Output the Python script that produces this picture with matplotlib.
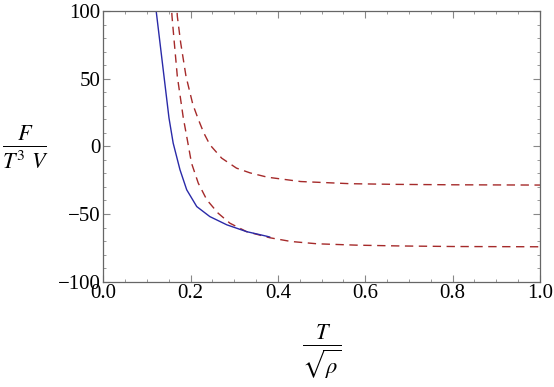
import numpy as np
import matplotlib.pyplot as plt

plt.rcParams["mathtext.fontset"] = "stix"
plt.rcParams["font.family"] = ["Liberation Serif", "DejaVu Serif"]

# blue solid curve
T_blue = [0.117, 0.1207, 0.1298, 0.139, 0.1504, 0.160, 0.1756, 0.191, 0.214, 0.244, 0.283, 0.328, 0.374, 0.381]
F_blue = [112, 101, 76.5, 51.7, 21.0, 2.4, -17.3, -32.1, -44.5, -51.9, -58.0, -63.0, -66.4, -67.0]

# red dashed, lower branch
T_red1 = [0.155, 0.1573, 0.1626, 0.1695, 0.1832, 0.191, 0.202, 0.2175, 0.237, 0.263, 0.290, 0.328,
          0.381, 0.43, 0.49, 0.58, 0.68, 0.80, 0.90, 1.0]
F_red1 = [110, 96.2, 76.5, 51.7, 21.0, 7.3, -12.4, -27.2, -39.5, -49.4, -56.8, -63.0,
          -67.5, -70.3, -72.0, -73.0, -73.6, -74.0, -74.1, -74.2]

# red dashed, upper branch
T_red2 = [0.167, 0.1695, 0.1772, 0.1894, 0.205, 0.2175, 0.23, 0.244, 0.271, 0.305, 0.336, 0.376,
          0.452, 0.566, 0.673, 0.80, 0.90, 1.0]
F_red2 = [110, 96.2, 76.5, 51.7, 31.0, 20.0, 10.0, 1.2, -8.7, -16.1, -19.6, -22.8,
          -26.0, -27.6, -28.1, -28.4, -28.5, -28.6]

fig = plt.figure(figsize=(5.54, 3.87), dpi=100)
ax = fig.add_axes([103.3 / 554, 1 - 281.7 / 387, (540 - 103.3) / 554, (281.7 - 11) / 387])

ax.plot(T_red1, F_red1, color="#a52a2a", linewidth=1.0, linestyle=(0, (6, 4)))
ax.plot(T_red2, F_red2, color="#a52a2a", linewidth=1.0, linestyle=(0, (6, 4)))
ax.plot(T_blue, F_blue, color="#2a2aa8", linewidth=1.0)

ax.set_xlim(0, 1.0)
ax.set_ylim(-100, 100)
ax.set_xticks(np.arange(0, 1.01, 0.2))
ax.set_xticks(np.arange(0, 1.01, 0.05), minor=True)
ax.set_yticks(np.arange(-100, 101, 50))
ax.set_yticks(np.arange(-100, 101, 10), minor=True)
ax.set_xticklabels(["0.0", "0.2", "0.4", "0.6", "0.8", "1.0"])

ax.tick_params(axis="both", which="major", direction="in", top=True, right=True,
               length=5, width=0.8, color="#888888", labelsize=15, pad=2)
ax.tick_params(axis="both", which="minor", direction="in", top=True, right=True,
               length=2.5, width=0.6, color="#888888")
for spine in ax.spines.values():
    spine.set_color("#666666")
    spine.set_linewidth(0.9)

fig.text(25 / 554, 1 - 147 / 387, r"$\frac{F}{T^{3}\ V}$", fontsize=23, ha="center", va="center")
fig.text(322 / 554, 1 - 352 / 387, r"$\frac{T}{\sqrt{\rho}}$", fontsize=23, ha="center", va="center")

fig.savefig("out.png", dpi=100)
